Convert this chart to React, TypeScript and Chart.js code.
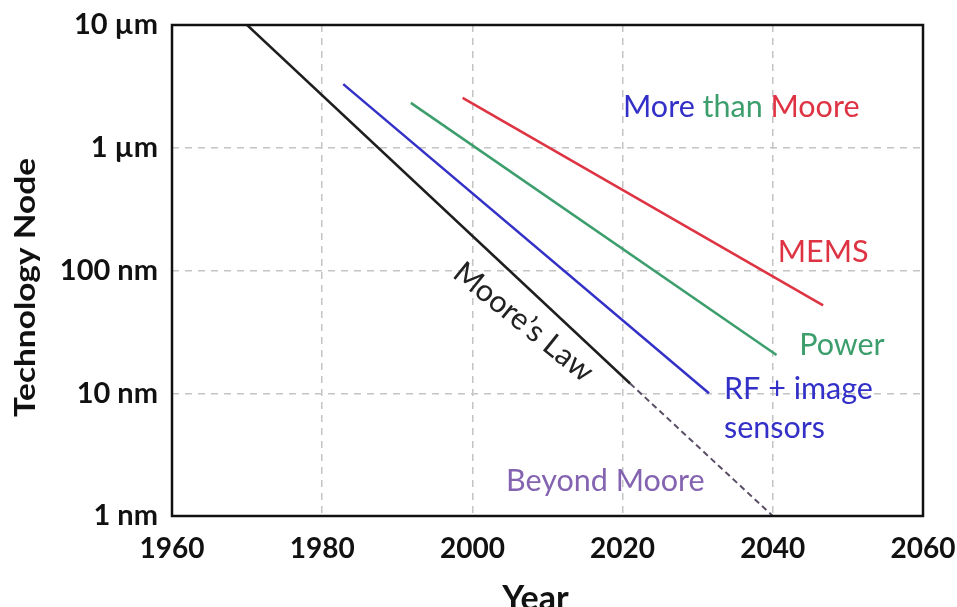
import React, { useEffect, useRef } from "react";
import { Chart, registerables } from "chart.js";

Chart.register(...registerables);

// ---- data ----
const xTickValues = [1960, 1980, 2000, 2020, 2040, 2060];
const yTickValues = [1, 10, 100, 1000, 10000];
const yTickLabels = ["1 nm", "10 nm", "100 nm", "1 \u00b5m", "10 \u00b5m"];

const mooreYears = [1970, 2021];
const mooreNm = [10000, 12];
const beyondYears = [2021, 2040];
const beyondNm = [12, 1];
const rfYears = [1982.8, 2031.5];
const rfNm = [3300, 10];
const powerYears = [1991.8, 2040.5];
const powerNm = [2320, 20.5];
const memsYears = [1998.7, 2046.7];
const memsNm = [2550, 52];

const xTitle = "Year";
const yTitle = "Technology Node";

const FONT = "Lato, 'Open Sans', sans-serif";

const BLUE = "#3330c8";
const GREEN = "#3c9e6c";
const RED = "#de3343";
const PURPLE_TXT = "#8464b0";

// annotation placement (data coordinates: year, nm)
const annotations = [
  { parts: [["More ", BLUE], ["than ", GREEN], ["Moore", RED]], x: 2035.8, y: 1786, align: "center", rot: 0 },
  { parts: [["MEMS", RED]], x: 2046.7, y: 117, align: "center", rot: 0 },
  { parts: [["Power", GREEN]], x: 2049.2, y: 20.5, align: "center", rot: 0 },
  { parts: [["RF + image", BLUE]], x: 2033.5, y: 9.0, align: "left", rot: 0 },
  { parts: [["sensors", BLUE]], x: 2033.5, y: 4.32, align: "left", rot: 0 },
  { parts: [["Beyond Moore", PURPLE_TXT]], x: 2017.7, y: 1.6, align: "center", rot: 0 },
  { parts: [["Moore\u2019s Law", "#222222"]], x: 2006.8, y: 38, align: "center", rot: 39 },
];

const pts = (xs: number[], ys: number[]) => xs.map((x, i) => ({ x, y: ys[i] }));

const overlayPlugin = {
  id: "overlay",
  afterDraw(chart: any) {
    const { ctx, chartArea, scales } = chart;
    ctx.save();
    // box
    ctx.strokeStyle = "#111";
    ctx.lineWidth = 2.5;
    ctx.setLineDash([]);
    ctx.strokeRect(chartArea.left, chartArea.top, chartArea.right - chartArea.left, chartArea.bottom - chartArea.top);
    // annotations
    ctx.font = `400 30.5px ${FONT}`;
    for (const a of annotations) {
      const px = scales.x.getPixelForValue(a.x);
      const py = scales.y.getPixelForValue(a.y);
      const total = a.parts.reduce((s: number, p: any) => s + ctx.measureText(p[0]).width, 0);
      ctx.save();
      ctx.translate(px, py);
      if (a.rot) ctx.rotate((a.rot * Math.PI) / 180);
      let cx = a.align === "center" ? -total / 2 : 0;
      ctx.textBaseline = a.rot ? "middle" : "alphabetic";
      ctx.textAlign = "left";
      for (const p of a.parts) {
        ctx.fillStyle = p[1];
        ctx.fillText(p[0], cx, 0);
        cx += ctx.measureText(p[0]).width;
      }
      ctx.restore();
    }
    // axis titles
    ctx.fillStyle = "#111";
    ctx.textAlign = "center";
    ctx.textBaseline = "alphabetic";
    ctx.font = `700 34px ${FONT}`;
    ctx.fillText(xTitle, 535.5, 609.5);
    ctx.save();
    ctx.font = `700 29px ${FONT}`;
    const w = ctx.measureText(yTitle).width;
    ctx.translate(35, 287.5);
    ctx.rotate(-Math.PI / 2);
    ctx.scale(259 / w, 1);
    ctx.fillText(yTitle, 0, 0);
    ctx.restore();
    ctx.restore();
  },
};

export default function App() {
  const ref = useRef<HTMLCanvasElement>(null);
  useEffect(() => {
    document.body.style.margin = "0";
    const chart = new Chart(ref.current!, {
      type: "line",
      data: {
        datasets: [
          { data: pts(mooreYears, mooreNm), borderColor: "#1e1e1e", borderWidth: 2.5, pointRadius: 0 },
          { data: pts(beyondYears, beyondNm), borderColor: "#5a4e66", borderWidth: 2, borderDash: [6, 4], pointRadius: 0 },
          { data: pts(rfYears, rfNm), borderColor: BLUE, borderWidth: 2.5, pointRadius: 0 },
          { data: pts(powerYears, powerNm), borderColor: GREEN, borderWidth: 2.5, pointRadius: 0 },
          { data: pts(memsYears, memsNm), borderColor: RED, borderWidth: 2.5, pointRadius: 0 },
        ],
      },
      options: {
        animation: false,
        responsive: false,
        devicePixelRatio: 1,
        layout: { padding: { top: 25, right: 34, left: 0, bottom: 0 } },
        plugins: { legend: { display: false }, tooltip: { enabled: false } },
        scales: {
          x: {
            type: "linear",
            min: 1960,
            max: 2060,
            afterBuildTicks: (s: any) => {
              s.ticks = xTickValues.map((v) => ({ value: v }));
            },
            afterFit: (s: any) => {
              s.height = 91;
              s.paddingLeft = 0;
              s.paddingRight = 0;
            },
            ticks: {
              callback: (v: any) => String(v),
              color: "#111",
              font: { family: FONT, weight: "bold", size: 28 },
              padding: 16,
              maxRotation: 0,
            },
            grid: { color: "#c4c4c4", lineWidth: 1.5, drawTicks: false },
            border: { display: false, dash: [7, 6] },
            title: { display: false },
          },
          y: {
            type: "logarithmic",
            min: 1,
            max: 10000,
            afterBuildTicks: (s: any) => {
              s.ticks = yTickValues.map((v) => ({ value: v }));
            },
            afterFit: (s: any) => {
              s.width = 172;
              s.paddingTop = 0;
              s.paddingBottom = 0;
            },
            ticks: {
              callback: (v: any) => {
                const i = yTickValues.indexOf(Number(v));
                return i >= 0 ? yTickLabels[i] : "";
              },
              color: "#111",
              font: { family: FONT, weight: "bold", size: 29 },
              padding: 14,
            },
            grid: { color: "#c4c4c4", lineWidth: 1.5, drawTicks: false },
            border: { display: false, dash: [7, 6] },
            title: { display: false },
          },
        },
      },
      plugins: [overlayPlugin],
    } as any);
    return () => chart.destroy();
  }, []);
  return (
    <div style={{ position: "absolute", left: 0, top: 0, width: 957, height: 607, background: "#fff" }}>
      <canvas ref={ref} width={957} height={607} style={{ display: "block" }} />
    </div>
  );
}
